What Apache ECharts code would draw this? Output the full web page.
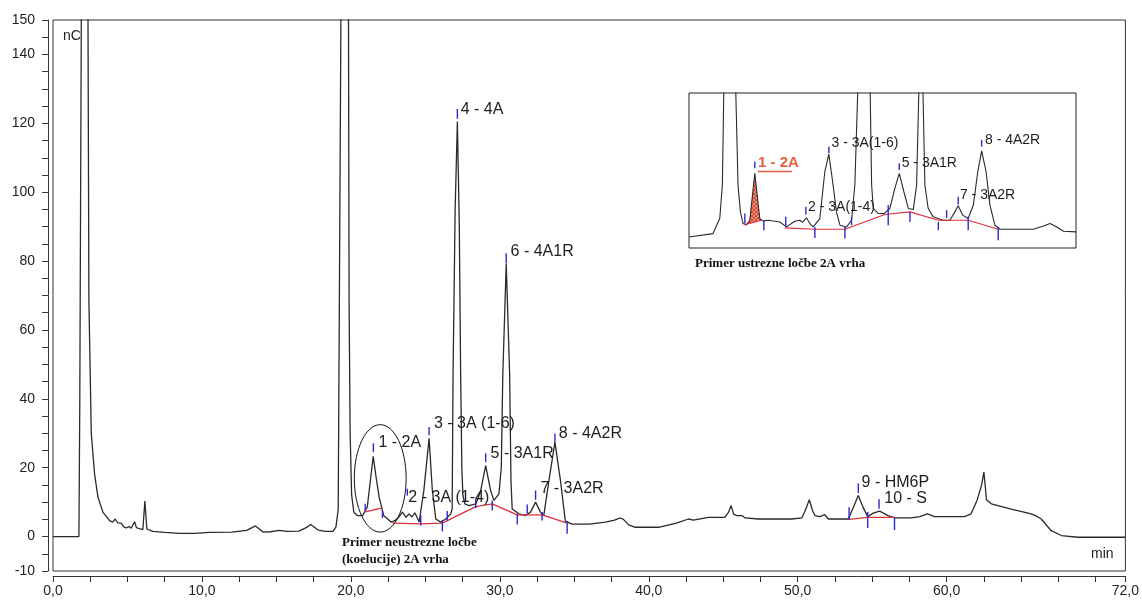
<!DOCTYPE html>
<html><head><meta charset="utf-8">
<script src="https://cdn.jsdelivr.net/npm/echarts@6/dist/echarts.min.js"></script>
<style>html,body{margin:0;padding:0;background:#fff}#c{width:1142px;height:602px}</style>
</head><body><div id="c"></div>
<script>
// ---------- DATA ----------
const xLabelValues = [0, 10, 20, 30, 40, 50, 60, 72];
const yLabelValues = [-10, 0, 20, 40, 60, 80, 100, 120, 140, 150];

// main chromatogram [time min, signal nC]
const mainTrace = [
 [0,0],[1.74,0],[1.8,40],[1.9,150],[2.0,260],[2.2,260],[2.35,150],[2.41,68.6],[2.57,30],[2.79,18.2],
 [3.02,11.4],[3.35,7.1],[3.8,4.65],[4.0,4.2],[4.18,5.1],[4.35,4.0],[4.58,3.9],[4.75,2.8],[4.92,2.5],[5.1,2.9],
 [5.25,2.4],[5.48,4.3],[5.6,2.6],[5.85,2.2],[6.03,2.0],[6.17,10.3],[6.3,2.2],[6.7,1.5],[7.5,1.2],[8.5,0.9],
 [9.5,0.9],[10.5,1.2],[12.0,1.3],[13.0,1.8],[13.6,3.1],[14.1,1.3],[14.6,1.4],[15.2,1.8],[15.7,1.5],[16.5,1.6],
 [17.0,2.6],[17.3,3.5],[17.8,1.9],[18.3,1.5],[18.8,1.5],[19.0,2.8],[19.15,8],[19.33,150],[19.45,260],[19.7,260],
 [19.84,150],[19.88,68],[19.95,30],[20.05,12],[20.2,7],[20.45,6.1],[20.78,6.1],[21.1,8.5],[21.3,16],[21.5,23.3],
 [21.7,17],[21.9,11.4],[22.2,6.1],[22.7,4.2],[22.95,4.6],[23.2,5.6],[23.46,7.1],[23.7,5.6],[23.9,6.6],[24.1,5.7],
 [24.3,6.9],[24.58,4.2],[24.9,13.4],[25.25,28.5],[25.47,13.4],[25.7,5.1],[26.03,4.2],[26.37,5.1],[26.7,6.6],[26.8,8],
 [26.86,47],[27.0,95],[27.15,120.5],[27.28,90],[27.37,47],[27.45,20],[27.52,12],[27.65,9.5],[27.93,9.0],[28.4,9.5],
 [28.7,13],[29.05,20.6],[29.38,13.4],[29.6,10.5],[29.94,12.4],[30.1,20],[30.2,47],[30.43,79.3],[30.66,47],[30.75,16],
 [30.83,8.0],[31.28,6.6],[31.73,6.1],[32.06,7.1],[32.4,10],[32.73,7.1],[32.95,6.1],[33.3,16.3],[33.7,27.4],[34.07,16.3],
 [34.4,4.5],[34.85,3.6],[36.0,3.6],[37.1,4.2],[37.7,4.8],[38.1,5.4],[38.3,5.0],[38.65,3.4],[39.1,2.7],[40.66,2.7],
 [41.8,3.8],[42.67,5.1],[43.0,4.8],[44.0,5.6],[45.1,5.6],[45.35,7],[45.53,9.0],[45.7,6.5],[45.9,6.1],[46.25,6.1],
 [46.47,5.4],[47.36,5.1],[49.6,5.1],[50.27,5.4],[50.5,7.5],[50.78,10.7],[51.0,7.5],[51.16,6.1],[51.5,5.8],[51.8,6.4],
 [52.06,5.1],[53.4,5.1],[53.74,8.5],[54.07,11.9],[54.4,8.4],[54.7,5.8],[55.07,6.8],[55.5,7.4],[56.07,6.1],[56.5,5.4],
 [57.6,5.4],[58.2,5.8],[58.7,6.6],[59.2,5.8],[61.2,5.8],[61.64,6.6],[62.04,10.5],[62.35,15],[62.5,18.7],[62.6,14.3],
 [62.67,10.7],[63.0,9.5],[64.34,8.0],[65.68,6.6],[66.0,6.0],[66.35,5.1],[67.02,1.7],[67.7,0.3],[68.8,-0.2],[72,-0.2]
];
// integration baselines (red)
const mainBaselines = [
 [[20.89,7.1],[22.12,8.3]],
 [[22.79,3.9],[24.69,3.7],[26.14,3.9],[28.38,8.7],[29.49,9.5],[31.17,6.3],[32.84,6.3],[34.52,3.9]],
 [[53.45,5.0],[54.7,5.6],[56.5,5.6]]
];
// peak markers [time, low, high]
const mainMarkers = [
 [20.96,7.4,9.5],[21.51,24.5,27.1],[22.12,5.4,7.6],[23.79,11.9,13.9],[24.69,3.2,6.1],[25.25,29.4,31.8],
 [26.14,1.5,4.7],[26.47,4.7,7.4],[27.15,121.3,124.2],[28.38,8.3,11],[29.05,21.6,24.2],[29.49,7.6,10.5],
 [30.43,79.4,82.3],[31.17,3.5,6.6],[31.84,6.6,9.3],[32.4,10.7,13.4],[32.84,4.7,7.1],[33.7,27.4,29.9],
 [34.52,0.8,4.4],[53.45,4.9,8.5],[54.07,12.6,15.4],[54.7,2.5,7.1],[55.46,8.1,10.8],[56.5,1.9,5.6]
];
const mainPeakNames = ['1 - 2A','2 - 3A (1-4)','3 - 3A (1-6)','4 - 4A','5 - 3A1R','6 - 4A1R','7 - 3A2R','8 - 4A2R','9 - HM6P','10 - S'];
const mainPeakLabelAt = [[21.85,27.4],[23.86,11.4],[25.58,32.8],[27.37,124.1],[29.38,24.2],[30.72,82.7],[32.73,13.9],[33.96,30.0],[54.29,15.8],[55.81,11.0]];
const coelutionCircle = [[21.97, 16.9]];

// inset chromatogram (relative units)
const insetTrace = [
 [18.0,7.1],[19.3,9.3],[19.67,19.0],[19.81,40.6],[19.9,110],[20.2,160],[20.52,110],[20.66,40.6],[20.79,23.3],[20.93,15.8],
 [21.12,14.9],[21.3,17.9],[21.57,48.2],[21.84,19.0],[22.02,17.3],[22.29,17.9],[22.93,16.8],[23.29,13.6],[23.74,17.3],[24.01,17.9],
 [24.15,16.5],[24.38,19.4],[24.56,15.8],[24.74,13.6],[25.1,19.0],[25.37,49.2],[25.59,60.5],[25.82,40.6],[26.0,23.3],[26.19,14.7],
 [26.55,13.6],[26.82,17.9],[27.0,40.6],[27.18,110],[27.5,160],[27.82,110],[27.91,40.6],[28.0,25.5],[28.27,22.3],[28.6,22.3],
 [28.9,25.5],[29.17,38.5],[29.41,48.2],[29.66,36.3],[29.9,25.5],[30.17,24.8],[30.35,40.6],[30.49,110],[30.58,160],[30.68,110],
 [30.8,40.6],[30.98,25.5],[31.25,20.1],[31.8,17.9],[32.16,17.9],[32.43,23.3],[32.61,27.2],[32.85,21.2],[33.15,19.0],[33.43,27.7],
 [33.67,49.2],[33.88,62.6],[34.12,49.2],[34.33,27.7],[34.6,14.7],[34.88,12.1],[35.6,12.1],[36.69,12.1],[37.23,14.2],[37.59,15.8],
 [37.96,13.6],[38.32,10.8],[39.0,10.4]
];
const insetBaselines = [
 [[21.01,15.1],[21.93,17.9]],
 [[23.2,13.0],[24.83,12.1],[26.46,12.1],[28.63,21.6],[29.99,23.3],[31.53,17.9],[33.15,17.9],[34.78,12.1]]
];
const insetMarkers = [
 [21.03,15.8,22.3],[21.57,51.4,55.7],[22.06,11.5,17.9],[23.25,13.6,20.1],[24.34,21.6,26.6],[24.83,6.5,13.6],
 [25.59,61.1,65.4],[26.46,6.1,13.6],[26.82,14.7,20.1],[28.81,14.7,27.7],[29.41,50.3,54.7],[29.99,16.8,23.3],
 [31.53,11.5,16.8],[31.98,19.4,24.4],[32.61,28.1,33],[33.15,11.5,20.1],[33.88,65.4,69.8],[34.78,5,13.6]
];
const insetPeakNames = ['1 - 2A','2 - 3A(1-4)','3 - 3A(1-6)','5 - 3A1R','7 - 3A2R','8 - 4A2R'];
const insetPeakLabelAt = [[21.75,54.7],[24.46,26.6],[25.73,67.6],[29.54,54.7],[32.7,34.1],[34.06,69.8]];
const insetShadedPeak = [21.01, 21.93]; // integration window of peak 1 - 2A

// ---------- CHART ----------
const chart = echarts.init(document.getElementById('c'), null, {renderer: 'canvas'});
const SANS = 'Liberation Sans, Arial, sans-serif';
const SERIF = 'Liberation Serif, Times New Roman, serif';

function markerSeries(data, xi, color) {
  return {
    type: 'custom', xAxisIndex: xi, yAxisIndex: xi, data: data, z: 4,
    encode: {x: 0, y: [1, 2]},
    renderItem: function (p, api) {
      const a = api.coord([api.value(0), api.value(1)]);
      const b = api.coord([api.value(0), api.value(2)]);
      return {type: 'line', shape: {x1: a[0], y1: a[1], x2: b[0], y2: b[1]},
        style: {stroke: color, lineWidth: 1.4}};
    }
  };
}
function labelSeries(names, at, xi, fontSize, extra) {
  return {
    type: 'custom', xAxisIndex: xi, yAxisIndex: xi, z: 5, silent: true,
    data: at.map((p, i) => [p[0], p[1], i]),
    encode: {x: 0, y: 1},
    renderItem: function (prm, api) {
      const i = api.value(2);
      const c = api.coord([api.value(0), api.value(1)]);
      const ex = (extra && extra[i]) || {};
      return {type: 'text', x: c[0], y: c[1],
        style: {text: names[i], fill: ex.color || '#1e1e1e', fontSize: ex.fontSize || fontSize,
          fontWeight: ex.fontWeight || 'normal', fontFamily: SANS, align: 'left', verticalAlign: 'middle'}};
    }
  };
}

// hatch pattern for the shaded peak
const pc = document.createElement('canvas'); pc.width = 4; pc.height = 4;
const g = pc.getContext('2d');
g.fillStyle = '#f2b3a0'; g.fillRect(0, 0, 4, 4);
g.strokeStyle = '#d9412a'; g.lineWidth = 1.1;
g.beginPath(); g.moveTo(0, 4); g.lineTo(4, 0); g.stroke();
g.beginPath(); g.moveTo(0, 0); g.lineTo(4, 4); g.stroke();

const shadedPoly = [[insetShadedPeak[0], insetBaselines[0][0][1]]]
  .concat(insetTrace.filter(p => p[0] > insetShadedPeak[0] && p[0] < insetShadedPeak[1]))
  .concat([[insetShadedPeak[1], insetBaselines[0][1][1]]]);

const series = [];
series.push({type: 'line', xAxisIndex: 0, yAxisIndex: 0, data: mainTrace, symbol: 'none', clip: true, z: 3,
  lineStyle: {color: '#2a2a2a', width: 1.3}});
mainBaselines.forEach(seg => series.push({type: 'line', xAxisIndex: 0, yAxisIndex: 0, data: seg, symbol: 'none', z: 3,
  lineStyle: {color: '#e0303a', width: 1.3}}));
series.push(markerSeries(mainMarkers, 0, '#2b2bd0'));
series.push(labelSeries(mainPeakNames, mainPeakLabelAt, 0, 16));
series.push({type: 'custom', xAxisIndex: 0, yAxisIndex: 0, data: coelutionCircle, z: 4,
  renderItem: function (p, api) {
    const c = api.coord([api.value(0), api.value(1)]);
    const e = api.coord([api.value(0) + 1.74, api.value(1) + 15.6]);
    return {type: 'ellipse', shape: {cx: c[0], cy: c[1], rx: Math.abs(e[0] - c[0]), ry: Math.abs(e[1] - c[1])},
      style: {fill: null, stroke: '#111', lineWidth: 1}};
  }});
// inset
series.push({type: 'custom', xAxisIndex: 1, yAxisIndex: 1, data: [[insetShadedPeak[0], 20]], z: 2,
  renderItem: function (p, api) {
    return {type: 'polygon', shape: {points: shadedPoly.map(q => api.coord(q))},
      style: {fill: {image: pc, repeat: 'repeat'}, stroke: null}};
  }});
series.push({type: 'line', xAxisIndex: 1, yAxisIndex: 1, data: insetTrace, symbol: 'none', clip: true, z: 3,
  lineStyle: {color: '#2a2a2a', width: 1.1}});
insetBaselines.forEach(seg => series.push({type: 'line', xAxisIndex: 1, yAxisIndex: 1, data: seg, symbol: 'none', z: 3,
  lineStyle: {color: '#e0303a', width: 1.2}}));
series.push(markerSeries(insetMarkers, 1, '#2b2bd0'));
series.push(labelSeries(insetPeakNames, insetPeakLabelAt, 1, 14,
  [{color: '#e5603e', fontWeight: 'bold', fontSize: 15}]));

chart.setOption({
  animation: false,
  backgroundColor: '#fff',
  grid: [
    {left: 53, right: 15, top: 20, bottom: 31, show: true, borderColor: '#333', borderWidth: 1, backgroundColor: 'transparent'},
    {left: 689, top: 93, width: 387, height: 155, show: true, borderColor: '#222', borderWidth: 1, backgroundColor: '#fff'}
  ],
  xAxis: [
    {type: 'value', gridIndex: 0, min: 0, max: 72, interval: 2.5, offset: 5,
      axisLine: {show: true, onZero: false, lineStyle: {color: '#333', width: 1}},
      axisTick: {show: true, length: 6, lineStyle: {color: '#333'}},
      splitLine: {show: false},
      axisLabel: {margin: 8, color: '#222', fontSize: 14, fontFamily: SANS, showMinLabel: true, showMaxLabel: true,
        formatter: v => xLabelValues.some(l => Math.abs(l - v) < 1e-6) ? v.toFixed(1).replace('.', ',') : ''}},
    {type: 'value', gridIndex: 1, min: 18, max: 39, show: false}
  ],
  yAxis: [
    {type: 'value', gridIndex: 0, min: -10, max: 150, interval: 5, offset: 5,
      axisLine: {show: true, onZero: false, lineStyle: {color: '#333', width: 1}},
      axisTick: {show: true, length: 6, lineStyle: {color: '#333'}},
      splitLine: {show: false},
      axisLabel: {margin: 13, color: '#222', fontSize: 14, fontFamily: SANS, showMinLabel: true, showMaxLabel: true,
        formatter: v => yLabelValues.some(l => Math.abs(l - v) < 1e-6) ? String(v) : ''}},
    {type: 'value', gridIndex: 1, min: 0, max: 100, show: false}
  ],
  series: series,
  graphic: [
    {type: 'text', left: 63, top: 29, z: 10, style: {text: 'nC', fontSize: 14, fontFamily: SANS, fill: '#222'}},
    {type: 'text', left: 1091, top: 547, z: 10, style: {text: 'min', fontSize: 14, fontFamily: SANS, fill: '#222'}},
    {type: 'text', left: 342, top: 534, z: 10, style: {text: 'Primer neustrezne ločbe\n(koelucije) 2A vrha',
      fontSize: 13, fontWeight: 'bold', fontFamily: SERIF, fill: '#111', lineHeight: 17}},
    {type: 'text', left: 695, top: 257, z: 10, style: {text: 'Primer ustrezne ločbe 2A vrha',
      fontSize: 13, fontWeight: 'bold', fontFamily: SERIF, fill: '#111'}},
    {type: 'line', z: 10, shape: {x1: 758, y1: 171.5, x2: 792, y2: 171.5}, style: {stroke: '#e5603e', lineWidth: 1.5}}
  ]
});
</script>
</body></html>
